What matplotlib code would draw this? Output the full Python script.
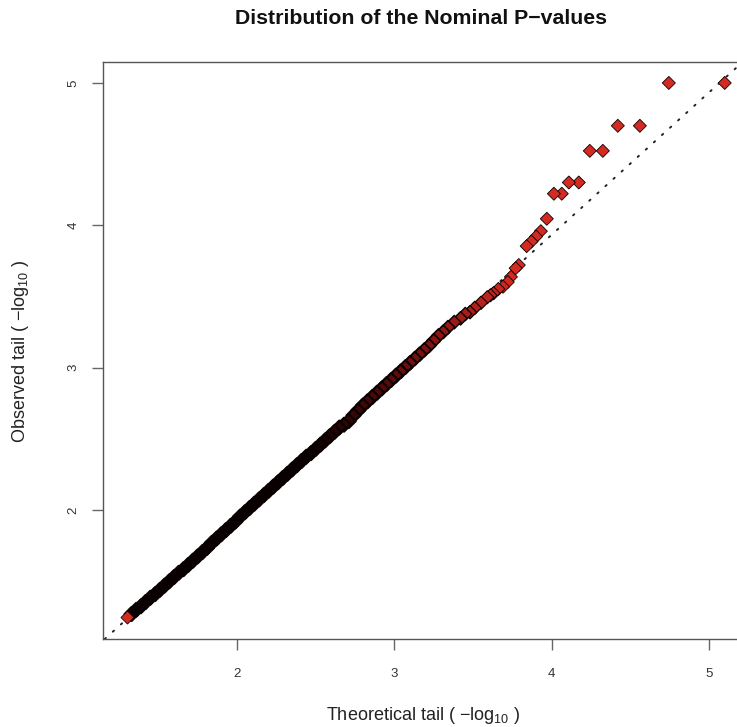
import numpy as np
import matplotlib
matplotlib.use("Agg")
import matplotlib.pyplot as plt
from matplotlib.colors import to_rgb

plt.rcParams['font.family'] = ['Liberation Sans', 'DejaVu Sans']
plt.rcParams['mathtext.fontset'] = 'custom'
plt.rcParams['mathtext.rm'] = 'Liberation Sans'
plt.rcParams['mathtext.it'] = 'Liberation Sans:italic'

title = "Distribution of the Nominal P\u2212values"
xlabel = r"Theoretical tail ( $-$log$_{10}$ )"
ylabel = r"Observed tail ( $-$log$_{10}$ )"

xticks = [2, 3, 4, 5]
yticks = [2, 3, 4, 5]

# dense body of the QQ curve (theoretical, observed)
body_x = [1.301, 1.33, 1.36, 1.39, 1.42, 1.45, 1.48, 1.51, 1.54, 1.57, 1.60, 1.63,
          1.66, 1.69, 1.72, 1.75, 1.78, 1.81, 1.84, 1.87, 1.90, 1.93, 1.96, 1.99,
          2.02, 2.05, 2.08, 2.11, 2.14, 2.17, 2.20, 2.23, 2.26, 2.29, 2.32, 2.35,
          2.38, 2.41, 2.44, 2.47, 2.50, 2.53, 2.56, 2.59, 2.62, 2.65, 2.68, 2.71,
          2.74, 2.77, 2.80, 2.83, 2.86, 2.89, 2.92, 2.95, 2.98, 3.01, 3.04, 3.07,
          3.10, 3.13, 3.16, 3.19, 3.22, 3.25, 3.28]
body_y = [1.247, 1.27, 1.30, 1.325, 1.355, 1.385, 1.41, 1.44, 1.47, 1.50, 1.53, 1.56,
          1.585, 1.615, 1.645, 1.675, 1.705, 1.735, 1.77, 1.80, 1.83, 1.86, 1.89, 1.92,
          1.955, 1.985, 2.015, 2.045, 2.075, 2.105, 2.135, 2.165, 2.195, 2.225, 2.255, 2.285,
          2.315, 2.345, 2.375, 2.40, 2.43, 2.46, 2.49, 2.52, 2.55, 2.58, 2.60, 2.625,
          2.665, 2.70, 2.735, 2.765, 2.795, 2.825, 2.855, 2.885, 2.915, 2.945, 2.975, 3.005,
          3.035, 3.065, 3.095, 3.125, 3.155, 3.19, 3.225]

# sparse upper tail
tail_x = [3.31, 3.34, 3.38, 3.42, 3.45, 3.48, 3.51, 3.55, 3.59, 3.61, 3.63, 3.66,
          3.69, 3.72, 3.74, 3.77, 3.79, 3.84, 3.87, 3.90, 3.93, 3.968, 4.013, 4.063,
          4.108, 4.171, 4.241, 4.324, 4.419, 4.559, 4.743, 5.098]
tail_y = [3.252, 3.284, 3.32, 3.347, 3.377, 3.39, 3.42, 3.456, 3.495, 3.509, 3.523, 3.553,
          3.569, 3.602, 3.638, 3.699, 3.721, 3.854, 3.886, 3.921, 3.959, 4.046, 4.222, 4.222,
          4.301, 4.301, 4.523, 4.523, 4.699, 4.699, 5.0, 5.0]

# dotted reference line
ref_intercept = -0.065
ref_slope = 1.0

xlim = (1.149, 5.249)
ylim = (1.095, 5.147)

W, H = 737, 727
fig = plt.figure(figsize=(W / 100, H / 100), dpi=100)
ax = fig.add_axes([103 / W, 1 - 639 / H, (748.5 - 103) / W, (639 - 62) / H])
ax.set_xlim(*xlim)
ax.set_ylim(*ylim)

ax.axline((0, ref_intercept), slope=ref_slope, color='#222222', lw=1.4,
          linestyle=(0, (0.8, 4.8)), dash_capstyle='round', zorder=1)

black = np.array(to_rgb('#080000'))
dark = np.array(to_rgb('#6a0c0c'))
red = np.array(to_rgb('#d42a22'))


def fill_colors(xs):
    t1 = np.clip((xs - 2.45) / (3.05 - 2.45), 0, 1)[:, None]
    t2 = np.clip((xs - 3.05) / (3.75 - 3.05), 0, 1)[:, None]
    c = black * (1 - t1) + dark * t1
    return c * (1 - t2) + red * t2


x = np.array(body_x + tail_x)
y = np.array(body_y + tail_y)
o = np.argsort(-x)          # draw from top of the tail down, lowest point last
x, y = x[o], y[o]
fills = fill_colors(x)
lws = 1.6 - 1.0 * np.clip((x - 3.0) / (3.7 - 3.0), 0, 1)
sizes = 50 - 6 * np.clip((x - 3.0) / (3.7 - 3.0), 0, 1)

ax.scatter(x[:-1], y[:-1], s=sizes[:-1], marker='D', c=fills[:-1],
           edgecolors='#0a0000', linewidths=lws[:-1], zorder=3)
ax.scatter(x[-1:], y[-1:], s=44, marker='D', c=[red],
           edgecolors='#1a0000', linewidths=0.6, zorder=4)

for side in ['left', 'bottom', 'top', 'right']:
    ax.spines[side].set_color('#555555')
    ax.spines[side].set_linewidth(1.0)

ax.set_xticks(xticks)
ax.set_yticks(yticks)
ax.tick_params(axis='both', direction='out', length=8, width=1.0, color='#666666',
               labelsize=9.5, labelcolor='#333333')
ax.tick_params(axis='x', pad=13)
ax.tick_params(axis='y', pad=9)
for lab in ax.get_yticklabels():
    lab.set_rotation(90)
    lab.set_va('center')

fig.text(421 / W, 1 - 18 / H, title, ha='center', va='center', fontsize=15.3,
         fontweight='bold', color='#111111')
fig.text(423 / W, 1 - 715 / H, xlabel, ha='center', va='center', fontsize=13, color='#222222')
fig.text(21 / W, 1 - 351 / H, ylabel, ha='center', va='center', fontsize=13,
         rotation=90, color='#222222')

fig.savefig('out.png', dpi=100)
